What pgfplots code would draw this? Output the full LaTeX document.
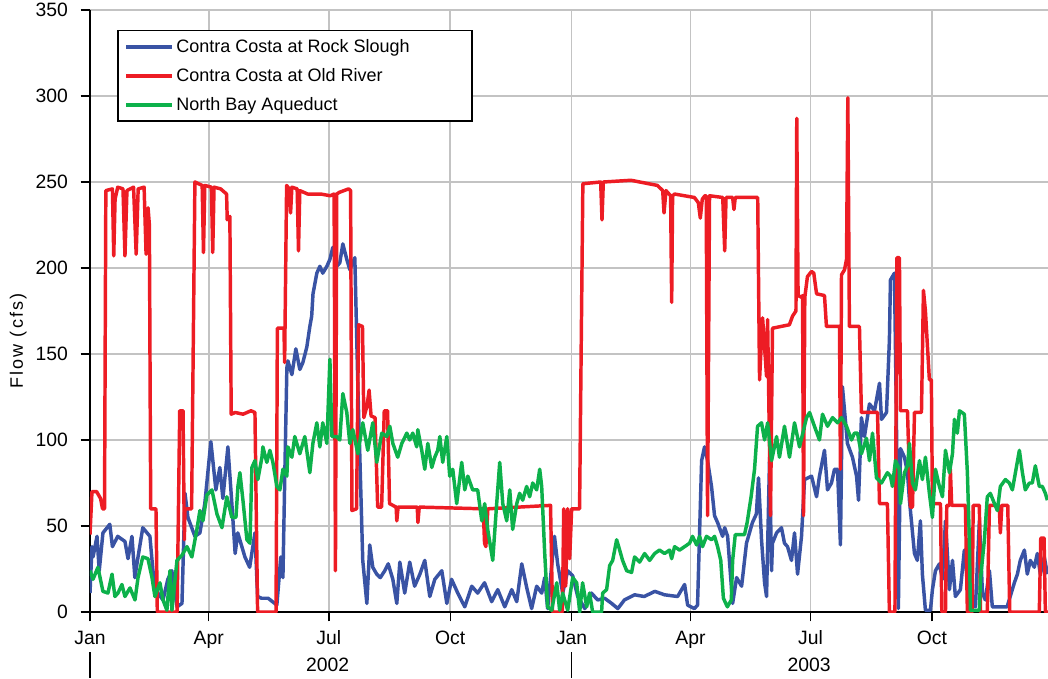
\documentclass[border=0pt]{standalone}
\usepackage{fontspec}
\setmainfont{Liberation Sans}
\usepackage{pgfplots}
\pgfplotsset{compat=1.18}
\definecolor{cblue}{RGB}{57,83,164}
\definecolor{cred}{RGB}{237,28,36}
\definecolor{cgreen}{RGB}{13,177,75}
\definecolor{gridgray}{RGB}{195,195,195}
\begin{document}
\begin{tikzpicture}
\begin{axis}[
  scale only axis, width=718.5pt, height=451.5pt,
  at={(0,0)}, anchor=south west,
  xmin=0, xmax=726, ymin=0, ymax=350,
  axis lines=left, axis line style={-, black, line width=1.3pt},
  xtick={0,90,181,273,365,455,546,638},
  xticklabels={Jan,Apr,Jul,Oct,Jan,Apr,Jul,Oct},
  ytick={0,50,...,350},
  grid=major, major grid style={gridgray, line width=1.2pt},
  tick align=outside, major tick length=7pt,
  tick style={black, line width=1pt},
  ticklabel style={font=\fontsize{14.5}{17}\selectfont},
  xticklabel style={yshift=-3.5pt},
  yticklabel style={xshift=-6pt},
  /pgf/number format/assume math mode=true,
  ylabel={\addfontfeature{LetterSpace=12}Flow (cfs)},
  ylabel style={font=\fontsize{13.5}{16}\selectfont, at={(axis description cs:-0.075,0.45)}, anchor=center},
  clip mode=individual,
  legend style={at={(0.0282,0.967)}, anchor=north west, draw=black, line width=1.2pt,
    font=\fontsize{13.5}{16}\selectfont, inner xsep=5pt, inner ysep=4.5pt, row sep=6.5pt,
    cells={anchor=west}},
  legend cell align=left,
  legend image code/.code={\draw[#1, line width=3pt] (0pt,0pt) -- (34pt,0pt);},
  every axis plot/.append style={line width=2.6pt, line join=round},
]
\addplot[cblue] table {
0 11
1.5 38
2.3 32
5.3 44
7 24
9.8 46
15 51
17 38
21 44
26.5 41
28.8 31
31.8 44
34 20
36.4 32
40 49
45.4 44
47.7 24
51.5 11
55.3 7
59 19
62 24
66 3
69.7 5
72 69
74.2 55
79.5 44
83.3 46
87 63
91.6 99
95.4 71
98.4 84
100.7 66
104.5 96
107.5 63
110 34
112 46
117.4 32
121 26
125 46
127 9
130 8
135 8
141.6 4
144.6 32
146.2 20
147.7 83
149.2 142
150 146
153 138
156 153
159 141
161.3 145
164.3 154
166.6 166
168 172
169 185
171.9 197
174.2 201
176.4 197
179.5 201
181.8 205
184 212
187 201
189.3 203
191.6 214
194.6 205
196.9 199
200.7 206
203 131
206.7 30
209.8 5
212 39
214.3 26
217.3 22
220 20
223.4 24
226 28
229.5 19
232.5 5
234.8 29
238.5 11
242.3 29
246 15
250 22
253.7 30
257.5 9
261.3 19
266.6 24
270.4 5
274 19
278.7 11
284 3
289.3 15
293.8 11
299 17
304.4 6
309 13
314.3 3
319.6 13
323.4 6
327.2 28
331 14
334.7 2
338.5 15
342.3 11
344.6 20
346.8 2
352 44
354.4 28
358.2 11
362 24
365.8 21
369.6 9
375 2
380 11
384.7 7
390 8
395.3 5
400 2
405 7
412.7 10
420 9
428 12
435.4 10
445.3 9
450.6 16
452.9 4
458 2
460.4 4
463.5 88
465.7 96
468 88
471 73
473.3 56
475.6 52
479.4 44
481 49
483.2 44
486.2 13
487 5
490 20
493.8 15
497.5 40
502 52
505 57
506.6 78
508.9 42
511.2 17
512.7 9
515 90
516.5 24
517.2 40
520.3 46
524 49
526.3 40
528.6 38
531.6 30
533.9 46
536.2 22
539.2 44
541.5 77
546.8 79
550.6 67
552.8 79
556.6 94
558.9 71
561.9 75
564.2 83
566.5 83
568.7 39
570.2 131
574 98
577.8 90
580.9 79
582.4 65
584.6 113
586.9 102
590.7 121
594.5 117
598.3 133
599.8 112
603.6 116
605.8 158
606.6 193
609.6 197
611 120
612.6 2
614.2 95
617.2 90
619.5 81
621 65
624.8 34
627 30
629.3 53
630.8 22
633.1 1
636.9 1
638.4 13
640.7 24
643.7 28
646 19
648.3 53
651.3 13
653.6 30
655.8 9
659.6 13
662.6 36
664.9 19
667.2 5
671 3
674 53
676.3 11
678.5 7
681.6 24
683.8 3
695 3
700.5 17
702.8 22
705 30
708.1 36
710.3 22
712.6 30
715.6 26
717.9 34
720.2 22
723.2 32
725.5 22
};
\addlegendentry{Contra Costa at Rock Slough\hspace*{40pt}}
\addplot[cred] table {
0 45
1.5 70
5 70
8 66
9.5 60
11 60
12 245
17 246
18 207
19 240
21 247
25 246
26.5 207
28 245
33 247
35 208
36.5 246
41 247
42.5 208
44 235
45 225
46 60
50 60
51 0
66 0
68 117
70.5 117
71.5 42
72 60
77 60
79.5 250
85 248
86 209
87 248
92 247
93 209
94 247
99 246
103.5 243
104 228
106 230
107 115
110 116
116 115
122 117
125 116
127 0
141 0
142 165
147 165
147.5 145
149 248
151 246
152 232
153 247
157 246
158 210
159 245
165 243
175 243
182 242
185 243
186 24
187 243
189 244
196 246
197.5 245
198.5 59
202 60
203.5 167
206.5 166
207.5 113
210 120
211.5 129
213 114
216 113
218 61
221 61
223 117
225.5 117
227 63
232 61
232.5 53
233.5 61
248 61
248.5 52
249.5 61
298 60
299 40
300 38
301.5 60
349 62
350.5 0
358 0
359 60
360.5 15
362 60
363.5 31
365 60
371 60
373.5 249
387 250
388 228
389 250
410 251
430 248
434 245
435 232
436.5 245
440 242
440.8 180
441.5 242
443 243
458 241
461 238
462.5 229
464 240
466 242
467 242
468 56
469.5 242
479.5 241
481 210
482 241
487 241
488 234
489 241
506 241
507.4 135
509.7 171
512.7 137
513.5 170
515.7 56
517.2 165
530 167
532.4 172
535 175
535.6 287
536.6 184
539.2 183
540 184
540.7 56
541.7 183
543.7 195
546.8 198
548.5 197
550.6 185
556.6 184
558.1 166
568 166
568.7 83
569.5 196
571.8 199
573.3 205
574.3 299
575.5 166
583.1 166
584.6 116
596.8 116
598.3 63
604.3 63
605.8 0
610 0
611.5 206
613.4 206
614.2 117
619.5 117
621.7 61
623.3 61
624.8 116
630.1 116
631.6 187
633.1 175
636.1 135
637.6 135
638.4 63
644.5 63
645.5 0
648.3 0
649.3 62
651.5 62
652 83
653 62
663.4 62
664.9 0
668.5 0
669.3 62
674 62
674.8 0
680 0
681.6 62
689 62
689.9 46
691 62
695.5 62
697 0
719.4 0
720.5 43
723 43
724 0
726 0
};
\addlegendentry{Contra Costa at Old River}
\addplot[cgreen] table {
0 24
2.3 19
6 26
9.8 12
13.6 11
16.7 22
18.9 9
21.2 11
24.2 16
26.5 9
30.3 14
34.1 7
36.4 20
40 32
43.9 31
47 20
49.2 9
53 17
55.3 7
58.3 1
60.6 24
62.1 1
65.9 30
69.7 33
73.5 38
77.2 32
81 48
83.3 59
85.6 53
88.6 68
92.4 71
96.2 57
100 49
103.7 67
107.5 55
110.6 55
112.1 73
113.6 81
115.9 65
118.9 42
121.2 40
122.7 84
125 88
127.2 77
130.3 90
131 96
134 87
136.3 94
138.6 87
141.6 73
143.9 71
146.2 83
149.2 79
150 96
153 90
155.2 102
159 92
162.8 102
166.6 81
168.9 98
171.9 110
174.2 96
176.4 110
179.5 98
181.8 147
183.3 102
187 102
189.3 100
191.6 127
194.6 116
196.9 98
199.2 106
203 92
206.7 110
210.5 94
214.3 110
217.3 87
221.1 104
224.9 102
227.2 108
229.5 98
233.2 90
236.3 98
240.1 104
242.3 100
244.6 104
247.6 96
248.4 106
251.4 94
253.7 83
256 98
259 84
261.3 90
263.5 94
265.1 102
267.3 87
270.4 102
272.6 79
274.9 83
277.9 63
281.7 87
284 71
286.3 79
290 71
293.8 71
296.9 53
299.1 63
301.4 48
305.2 30
308.2 63
310.5 87
312.8 63
315.8 53
318.1 71
320.3 48
323.4 63
325.6 69
327.9 65
330.9 73
333.2 67
335.5 75
338.5 71
340.8 83
342.3 73
344.6 34
346.8 3
349.9 1
353.7 17
355.9 1
358.2 11
362 1
365.8 20
368.8 17
371.1 0
373.3 17
376.4 3
378.6 11
380.9 0
387.7 0
388.5 11
391.5 13
393.8 27
396.1 30
399.1 42
401.4 36
403.6 30
406.7 24
410.4 23
412.7 32
416.5 29
420.3 34
424.1 30
427.9 34
431.6 36
435.4 34
439.2 36
440.8 31
443 38
446.8 36
450.6 38
454.4 40
456.6 44
459.7 39
462 44
464.2 38
467.2 44
471 42
473.3 44
475.6 38
478 30
480 8
483 3
486 7
487 30
489 45
496 45
498 52
501 67
503.6 83
505.9 108
508.9 110
511.2 100
513.5 110
516.5 88
520.3 102
522.5 90
526.3 108
530.1 90
533.9 110
537.7 96
543 113
545.3 116
549 108
552.8 100
555.1 115
558.9 108
562.7 113
566.5 110
569.5 113
573.3 108
577.1 100
579.3 104
581.6 104
584.6 92
588.4 101
590.7 88
593 104
596 78
599.8 75
604.3 81
606.6 79
608.1 73
610.4 88
613.4 83
614.2 63
617.2 81
619.5 85
621 98
623.3 75
625.5 71
628.6 88
630.8 77
633.1 90
636.1 69
638.4 55
640.7 83
643.7 73
646 67
648.3 94
651.3 81
653.6 92
655.1 112
657.3 104
658.9 117
662.6 115
664.9 81
666.4 42
667.2 1
674 1
674.8 19
677.8 42
680 67
682.3 69
685.4 63
687.6 59
689.9 73
693.7 77
696.7 75
699 71
701.3 81
704.3 94
706.6 81
708.8 71
711.9 75
714.1 75
716.4 85
719.4 73
721.7 73
724 69
725.5 65
};
\addlegendentry{North Bay Aqueduct}
\draw[black, line width=1pt] ([yshift=-30pt]axis cs:0,0) -- ([yshift=-49.5pt]axis cs:0,0);
\draw[black, line width=1pt] ([yshift=-30pt]axis cs:365,0) -- ([yshift=-49.5pt]axis cs:365,0);
\node[font=\fontsize{14.5}{17}\selectfont] at ([yshift=-39.75pt]axis cs:180,0) {2002};
\node[font=\fontsize{14.5}{17}\selectfont] at ([yshift=-39.75pt]axis cs:545,0) {2003};
\end{axis}
\pgfresetboundingbox
\path[use as bounding box] (-67.5pt,-49.5pt) rectangle (718.5pt,459pt);
\end{tikzpicture}
\end{document}
